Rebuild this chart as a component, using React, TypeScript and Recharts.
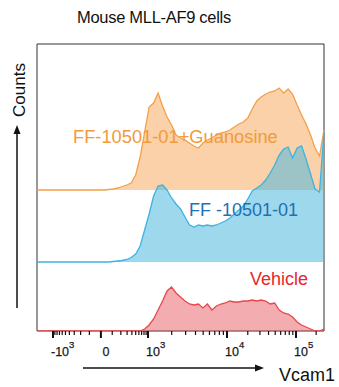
import { ComposedChart, Area, Line, XAxis, YAxis, ReferenceArea } from "recharts"

// display channels (0..1024) of the biexponential Vcam1 axis, one per histogram bin
const bins = [
  0, 16, 32, 48, 64, 80, 96, 112, 128, 144, 160, 176, 192, 208, 224, 240, 256, 272, 288, 304, 320, 336,
  352, 368, 384, 400, 416, 432, 448, 464, 480, 496, 512, 528, 544, 560, 576, 592, 608, 624, 640, 656,
  672, 688, 704, 720, 736, 752, 768, 784, 800, 816, 832, 848, 864, 880, 896, 912, 928, 944, 960, 976,
  992, 1008, 1024,
]

// counts per bin (scaled)
const vehicle = [
  0, 0, 0, 0, 0, 0, 0, 0, 0, 0, 0, 0, 0, 0, 0, 0, 0, 0, 0, 0, 0, 0, 0, 0,
  2, 6, 12, 21, 30, 40, 44, 38, 34, 30, 27, 26, 27, 23, 27, 21, 25, 27, 28, 30, 29, 29, 30, 30, 31, 30,
  31, 30, 27, 28, 21, 18, 17, 14, 9, 6, 4, 2, 0, 0, 2,
]
const ff10501 = [
  0, 0, 0, 0, 0, 0, 0, 0, 0, 0, 0, 0, 0, 0, 0, 0, 0,
  0.5, 1, 1.5, 2.5, 4.5, 8, 16, 32, 48, 66, 76, 77, 72, 64, 58, 53, 45, 37, 35, 37, 36, 37, 36, 37, 39,
  41, 44, 48, 52, 56, 63, 71, 74, 77, 82, 89, 97, 107, 113, 115, 104, 114, 116, 103, 88, 73, 70, 130,
]
const ffGuanosine = [
  0, 0, 0, 0, 0, 0, 0, 0, 0, 0, 0, 0, 0, 0, 0, 0,
  0.5, 1, 2, 3.5, 5, 7, 15, 33, 58, 83, 87, 97, 84, 73, 65, 55, 52, 50, 47, 44, 42, 47, 50, 52, 55, 57,
  58, 60, 63, 66, 68, 72, 81, 89, 93, 96, 98, 99, 102, 97, 101, 96, 85, 75, 66, 55, 42, 34, 60,
]

// vertical offsets of the stacked histograms
const OFF_VEH = 0
const OFF_FF = 69
const OFF_GUAN = 141

// axis tick values (Vcam1 intensity)
const majorTicks = [-1000, 0, 1000, 10000, 100000]
const majorLabels = [["-10", "3"], ["0", ""], ["10", "3"], ["10", "4"], ["10", "5"]]
const minorTicks = [
  -900, -800, -700, -600, -500, -400, -300, -200, -100, 100, 200, 300, 400, 500, 600, 700, 800, 900,
  2000, 3000, 4000, 5000, 6000, 7000, 8000, 9000, 20000, 30000, 40000, 50000, 60000, 70000, 80000,
  90000, 200000,
]

// biex transform: interpolate between anchor channels in asinh space
const anchors: [number, number][] = [
  [-1000, 57], [0, 228], [1000, 396], [10000, 678], [100000, 924], [262144, 1024],
]
const toChannel = (v: number) => {
  const a = Math.asinh(v / 150)
  for (let i = 0; i < anchors.length - 1; i++) {
    const a0 = Math.asinh(anchors[i][0] / 150)
    const a1 = Math.asinh(anchors[i + 1][0] / 150)
    if (a <= a1 || i === anchors.length - 2) {
      return anchors[i][1] + ((a - a0) / (a1 - a0)) * (anchors[i + 1][1] - anchors[i][1])
    }
  }
  return 0
}

const tickDefs = [
  ...majorTicks.map((v, i) => ({ ch: toChannel(v), label: majorLabels[i] })),
  ...minorTicks.map((v) => ({ ch: toChannel(v), label: null as string[] | null })),
].sort((a, b) => a.ch - b.ch)

const data = bins.map((ch, i) => ({
  ch,
  vehicle: vehicle[i],
  ff: ff10501[i],
  guan: ffGuanosine[i],
}))

const FONT = "'Liberation Sans', Arial, sans-serif"

const AxisTick = (props: any) => {
  const { x, y, index } = props
  const def = tickDefs[index]
  if (!def) return null
  const major = def.label !== null
  return (
    <g>
      <line x1={x} x2={x} y1={y} y2={y + (major ? 7 : 4)} stroke="#111" strokeWidth={major ? 2 : 1.2} />
      {major && def.label && (
        <text
          x={def.label[1] ? x - 2 : x + 5}
          y={y + 25}
          textAnchor={def.label[1] ? "start" : "middle"}
          fontFamily={FONT}
          fontSize={12.5}
          fill="#1a1a1a"
          stroke="#1a1a1a"
          strokeWidth={0.25}
        >
          {def.label[0]}
          {def.label[1] && (
            <tspan dy={-8} fontSize={9.5}>
              {def.label[1]}
            </tspan>
          )}
        </text>
      )}
    </g>
  )
}

export default function App() {
  return (
    <div style={{ position: "absolute", left: 0, top: 0, width: 339, height: 387, background: "#fff" }}>
      <ComposedChart width={339} height={387} data={data} margin={{ top: 44, right: 15, left: 37, bottom: 0 }}>
        <XAxis
          dataKey="ch"
          type="number"
          domain={[0, 1024]}
          ticks={tickDefs.map((t) => t.ch)}
          interval={0}
          tickLine={false}
          axisLine={false}
          tickSize={0}
          tickMargin={0}
          height={56}
          tick={(p: any) => <AxisTick {...p} />}
        />
        <YAxis hide type="number" domain={[0, 287]} allowDataOverflow />
        <ReferenceArea x1={0} x2={1024} y1={0} y2={287} fill="none" stroke="#333" strokeWidth={1} />

        <Area
          dataKey={(d: any) => [OFF_GUAN, OFF_GUAN + d.guan]}
          type="linear"
          stroke="none"
          fill="#F6A452"
          fillOpacity={0.5}
          isAnimationActive={false}
        />
        <Line
          dataKey={(d: any) => OFF_GUAN + d.guan}
          type="linear"
          stroke="#F4A04A"
          strokeWidth={1.3}
          dot={false}
          isAnimationActive={false}
        />

        <Area
          dataKey={(d: any) => [OFF_FF, OFF_FF + d.ff]}
          type="linear"
          stroke="none"
          fill="#4FB8DC"
          fillOpacity={0.55}
          isAnimationActive={false}
        />
        <Line
          dataKey={(d: any) => OFF_FF + d.ff}
          type="linear"
          stroke="#3CB4E0"
          strokeWidth={1.3}
          dot={false}
          isAnimationActive={false}
        />

        <Area
          dataKey={(d: any) => [OFF_VEH, OFF_VEH + d.vehicle]}
          type="linear"
          stroke="none"
          fill="#E5484D"
          fillOpacity={0.45}
          isAnimationActive={false}
        />
        <Line
          dataKey={(d: any) => OFF_VEH + d.vehicle}
          type="linear"
          stroke="#E8474B"
          strokeWidth={1.3}
          dot={false}
          isAnimationActive={false}
        />
      </ComposedChart>

      <svg
        width={339}
        height={387}
        style={{ position: "absolute", left: 0, top: 0, pointerEvents: "none" }}
        fontFamily={FONT}
      >
        <text x={77} y={23} fontSize={16.5} fill="#111" letterSpacing={-0.3}>
          Mouse MLL-AF9 cells
        </text>
        <text transform="translate(25,90) rotate(-90)" textAnchor="middle" fontSize={17} fill="#111">
          Counts
        </text>
        <line x1={17} x2={17} y1={308} y2={132} stroke="#111" strokeWidth={1.5} />
        <polygon points="17,125 13.5,134 20.5,134" fill="#111" />

        <line x1={83} x2={256} y1={368} y2={368} stroke="#111" strokeWidth={1.5} />
        <polygon points="264,368 255,364.5 255,371.5" fill="#111" />
        <text x={279} y={381} fontSize={18} fill="#111">
          Vcam1
        </text>

        <text x={73} y={143} fontSize={18.3} fill="#F39A3A">
          FF-10501-01+Guanosine
        </text>
        <text x={189} y={216} fontSize={18} fill="#2070B8">
          FF -10501-01
        </text>
        <text x={250} y={285} fontSize={18} fill="#E8262B">
          Vehicle
        </text>
      </svg>
    </div>
  )
}
